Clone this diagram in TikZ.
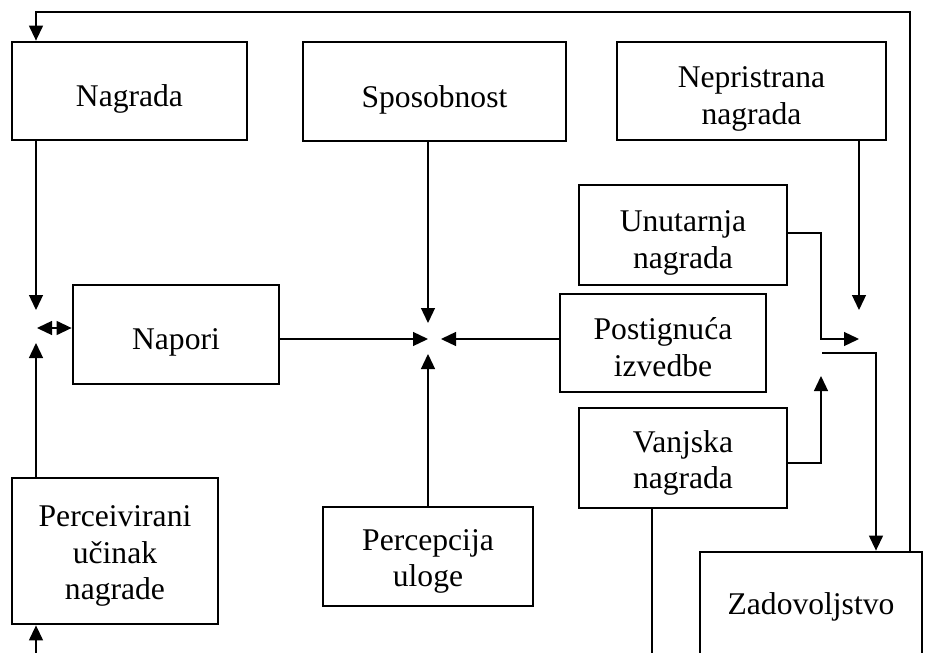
\documentclass[tikz,border=0pt]{standalone}
\usepackage{fontspec}
\setmainfont{Liberation Serif}
\usetikzlibrary{arrows.meta}

\begin{document}
\begin{tikzpicture}[x=1pt,y=-1pt,
  box/.style={draw,line width=2.8pt,inner sep=0pt},
  caption/.style={align=center,inner sep=0pt,yshift=-8pt,
    font=\fontsize{31.6}{36.5}\selectfont},
  link/.style={line width=1.3pt},
  arr/.style={link,-{Triangle[length=15pt,width=14pt]}},
  arrtwo/.style={link,{Triangle[length=15pt,width=14pt]}-{Triangle[length=15pt,width=14pt]}}]
\useasboundingbox (0,0) rectangle (930,653);
\clip (0,0) rectangle (930,653);
% boxes
\node[box,minimum width=235pt,minimum height=98pt,label={[caption]center:Nagrada}] (nagrada) at (129.5,91) {};
\node[box,minimum width=263pt,minimum height=99pt,label={[caption]center:Sposobnost}] (sposobnost) at (434.5,91.5) {};
\node[box,minimum width=269pt,minimum height=98pt,label={[caption]center:{Nepristrana\\nagrada}}] (nepristrana) at (751.5,91) {};
\node[box,minimum width=208pt,minimum height=100pt,label={[caption]center:{Unutarnja\\nagrada}}] (unutarnja) at (683,235) {};
\node[box,minimum width=206pt,minimum height=98pt,label={[caption,yshift=4pt]center:{Postignuća\\izvedbe}}] (postignuca) at (663,343) {};
\node[box,minimum width=208pt,minimum height=100pt,label={[caption,yshift=3pt]center:{Vanjska\\nagrada}}] (vanjska) at (683,458) {};
\node[box,minimum width=206pt,minimum height=99pt,label={[caption]center:Napori}] (napori) at (176,334.5) {};
\node[box,minimum width=206pt,minimum height=146pt,label={[caption,yshift=3pt]center:{Perceivirani\\učinak\\nagrade}}] (perceivirani) at (115,551) {};
\node[box,minimum width=210pt,minimum height=99pt,label={[caption,yshift=3pt]center:{Percepcija\\uloge}}] (percepcija) at (428,556.5) {};
\node[box,minimum width=222pt,minimum height=110pt,label={[caption,yshift=8pt]center:Zadovoljstvo}] (zadovoljstvo) at (811,607) {};
% arrow ends
\coordinate (inLa) at (36,310);
\coordinate (inLb) at (36,343);
\coordinate (inLc) at (37,328);
\coordinate (inCa) at (428,323);
\coordinate (inCb) at (428,354);
\coordinate (inCc) at (428,339);
\coordinate (inCd) at (441,339);
\coordinate (inRa) at (859,310);
\coordinate (inRb) at (859,339);
\coordinate (inRc) at (821,376);
\coordinate (outR) at (822,353);
\coordinate (zIn) at (876,353);
\coordinate (fb) at (910,12);
\coordinate (offL) at (36,665);
\coordinate (offV) at (652,665);
% left
\draw[arr] (nagrada.south -| inLa) -- (inLa);
\draw[arr] (perceivirani.north -| inLb) -- (inLb);
\draw[arrtwo] (inLc) -- (napori.west |- inLc);
\draw[arr] (offL) -- (perceivirani.south -| offL);
% centre
\draw[arr] (napori.east |- inCc) -- (inCc);
\draw[arr] (sposobnost.south -| inCa) -- (inCa);
\draw[arr] (percepcija.north -| inCb) -- (inCb);
\draw[arr] (postignuca.west |- inCd) -- (inCd);
% right
\draw[arr] (nepristrana.south -| inRa) -- (inRa);
\draw[arr] ([yshift=2pt]unutarnja.east) -| (inRc |- inRb) -- (inRb);
\draw[arr] ([yshift=-5pt]vanjska.east) -| (inRc);
\draw[arr] (outR) -- (zIn) -- (zadovoljstvo.north -| zIn);
\draw[link] (vanjska.south -| offV) -- (offV);
% feedback
\draw[arr] (zadovoljstvo.north -| fb) -- (fb) -- (fb -| inLa) -- (nagrada.north -| inLa);
\end{tikzpicture}
\end{document}
